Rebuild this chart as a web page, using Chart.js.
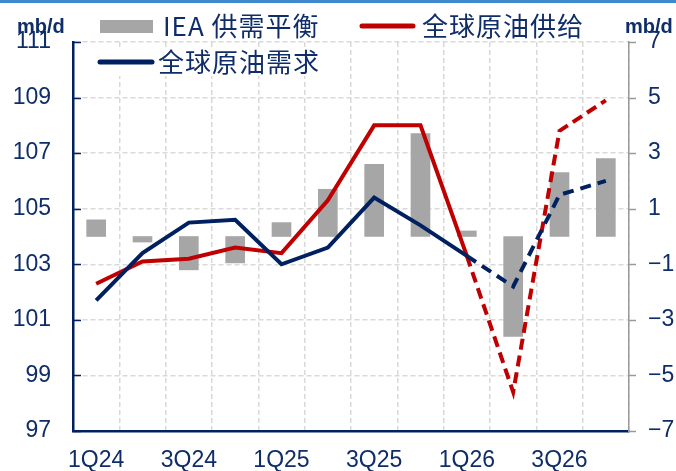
<!DOCTYPE html>
<html lang="zh">
<head>
<meta charset="UTF-8">
<title>全球原油供需</title>
<script src="https://cdn.jsdelivr.net/npm/chart.js"></script>
<style>
    body { margin: 0; background: #fff; }
    .wrap { position: relative; width: 676px; height: 471px; }
    .topline { position: absolute; left: 0; top: 0; width: 676px; height: 3px; background: #3f89cf; }
    canvas { display: block; }
</style>
</head>
<body>
<div class="wrap">
    <canvas id="oil" width="676" height="471"></canvas>
    <div class="topline"></div>
</div>
<script>
    // quarterly data, mb/d
    const quarters = ['1Q24','2Q24','3Q24','4Q24','1Q25','2Q25','3Q25','4Q25','1Q26','2Q26','3Q26','4Q26'];
    const balance = [0.6, -0.2, -1.2, -0.95, 0.5, 1.7, 2.6, 3.7, 0.2, -3.6, 2.3, 2.8];
    const supply = [102.3, 103.1, 103.2, 103.6, 103.4, 105.3, 108.0, 108.0, 103.3, 98.4, 107.8, 108.9];
    const demand = [101.7, 103.4, 104.5, 104.6, 103.0, 103.6, 105.4, 104.4, 103.3, 102.2, 105.5, 106.0];
    const forecastFrom = 8; // 1Q26 onwards drawn dashed

    const NAVY = '#0f2d69';
    const RED = '#c00000';
    const BLUE = '#002060';
    const GREY = '#a6a6a6';
    const tickFont = { family: 'Liberation Sans, Arial, sans-serif', size: 23 };

    const dashAfter = (dash) => (ctx) => ctx.p0DataIndex >= forecastFrom ? dash : undefined;

    // legend, unit labels and inner tick marks
    const decor = {
        id: 'decor',
        beforeDatasetsDraw(chart) {
            const c = chart.ctx;
            const y = chart.scales.y, y1 = chart.scales.y1;
            c.save();
            c.lineWidth = 1.5;
            c.strokeStyle = BLUE;
            y.ticks.forEach(t => {
                const py = Math.round(y.getPixelForValue(t.value)) + 0.5;
                c.beginPath(); c.moveTo(y.right, py); c.lineTo(y.right + 8, py); c.stroke();
            });
            c.strokeStyle = '#999';
            y1.ticks.forEach(t => {
                const py = Math.round(y1.getPixelForValue(t.value)) + 0.5;
                c.beginPath(); c.moveTo(y1.left, py); c.lineTo(y1.left + 7, py); c.stroke();
            });
            c.restore();
        },
        afterDraw(chart) {
            const c = chart.ctx;
            const ds = chart.data.datasets;
            c.save();
            // unit labels
            c.fillStyle = NAVY;
            c.font = 'bold 20px Liberation Sans, Arial, sans-serif';
            c.textBaseline = 'alphabetic';
            c.fillText('mb/d', 17, 33);
            c.fillText('mb/d', 625, 33);

            c.font = '26px "Noto Sans CJK SC", sans-serif';
            c.letterSpacing = '1px';
            c.textBaseline = 'middle';
            // row 1: balance bars + supply
            c.fillStyle = ds[0].backgroundColor;
            c.fillRect(100, 20, 53, 13);
            c.fillStyle = NAVY;
            c.fillText(ds[0].label, 163, 26);
            c.lineCap = 'round';
            c.lineWidth = 5;
            c.strokeStyle = ds[1].borderColor;
            c.beginPath(); c.moveTo(362, 26); c.lineTo(413, 26); c.stroke();
            c.fillText(ds[1].label, 422, 26);
            // row 2: demand, sits over the plot
            c.fillStyle = '#fff';
            c.fillRect(95, 49, 235, 27);
            c.strokeStyle = ds[2].borderColor;
            c.beginPath(); c.moveTo(100, 62); c.lineTo(152, 62); c.stroke();
            c.fillStyle = NAVY;
            c.fillText(ds[2].label, 158, 62);
            c.restore();
        }
    };

    new Chart(document.getElementById('oil'), {
        data: {
            labels: quarters,
            datasets: [
                {
                    type: 'bar', label: 'IEA 供需平衡', data: balance, yAxisID: 'y1',
                    backgroundColor: GREY, barThickness: 19, order: 2
                },
                {
                    type: 'line', label: '全球原油供给', data: supply, yAxisID: 'y',
                    borderColor: RED, borderWidth: 4, pointRadius: 0, tension: 0, order: 1,
                    segment: { borderDash: dashAfter([11, 6]) }
                },
                {
                    type: 'line', label: '全球原油需求', data: demand, yAxisID: 'y',
                    borderColor: BLUE, borderWidth: 4, pointRadius: 0, tension: 0, order: 0,
                    segment: { borderDash: dashAfter([11, 7]) }
                }
            ]
        },
        options: {
            responsive: false,
            animation: false,
            layout: { padding: { top: 42, left: 0, right: 0, bottom: 0 } },
            plugins: { legend: { display: false }, tooltip: { enabled: false } },
            scales: {
                x: {
                    offset: true,
                    grid: { offset: true, color: '#d9d9d9', lineWidth: 1.5, drawTicks: false },
                    border: { color: BLUE, width: 2.5, dash: [5, 3] },
                    ticks: {
                        color: NAVY, font: tickFont, padding: 16, autoSkip: false, maxRotation: 0,
                        callback: (v, i) => i % 2 === 0 ? quarters[i] : ''
                    },
                    afterFit: s => { s.height = 40; }
                },
                y: {
                    position: 'left', min: 97, max: 111,
                    grid: { color: '#d9d9d9', lineWidth: 1.5, drawTicks: false },
                    border: { color: BLUE, width: 2.5, dash: [5, 3] },
                    ticks: { stepSize: 2, color: NAVY, font: tickFont, padding: 22 },
                    afterFit: s => { s.width = 73; }
                },
                y1: {
                    position: 'right', min: -7, max: 7,
                    grid: { display: false, drawTicks: false },
                    border: { color: '#999', width: 1.5 },
                    ticks: {
                        stepSize: 2, color: NAVY, font: tickFont, padding: 19,
                        callback: v => String(v).replace('-', '\u2212')
                    },
                    afterFit: s => { s.width = 47; }
                }
            }
        },
        plugins: [decor]
    });
</script>
</body>
</html>
